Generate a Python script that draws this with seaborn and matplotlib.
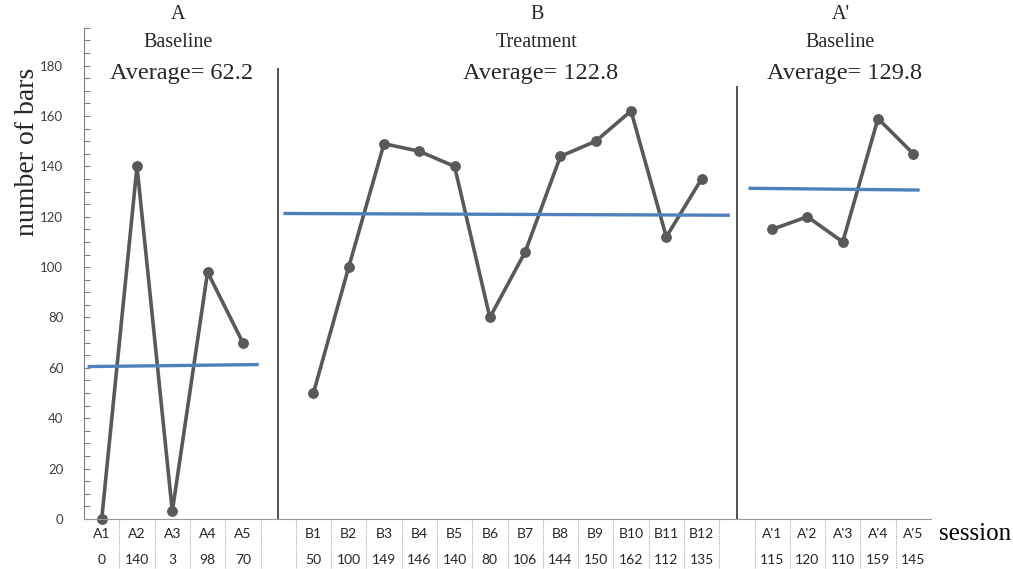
import numpy as np
import pandas as pd
import matplotlib
matplotlib.use("Agg")
import matplotlib.pyplot as plt
import seaborn as sns

# Data
phase_a = ["A1", "A2", "A3", "A4", "A5"]
values_a = [0, 140, 3, 98, 70]
phase_b = ["B1", "B2", "B3", "B4", "B5", "B6", "B7", "B8", "B9", "B10", "B11", "B12"]
values_b = [50, 100, 149, 146, 140, 80, 106, 144, 150, 162, 112, 135]
phase_a2 = ["A'1", "A'2", "A'3", "A'4", "A'5"]
values_a2 = [115, 120, 110, 159, 145]

phase_titles = [("A", "Baseline", "Average= 62.2"),
                ("B", "Treatment", "Average= 122.8"),
                ("A'", "Baseline", "Average= 129.8")]
# hand-drawn mean lines (start, end level)
mean_levels = [(60.5, 61.3), (121.3, 120.6), (131.3, 130.6)]

GRAY = "#595959"
BLUE = "#4F81BD"
SERIF = "Liberation Serif"
SANS = "Lato"

# layout: one empty column between phases
labels = phase_a + [""] + phase_b + [""] + phase_a2
values = values_a + [None] + values_b + [None] + values_a2
rows = []
for i, (lab, v) in enumerate(zip(labels, values)):
    if v is None:
        continue
    ph = "A" if lab.startswith("A") and "'" not in lab else ("B" if lab.startswith("B") else "A'")
    rows.append({"pos": i, "value": v, "phase": ph, "label": lab})
df = pd.DataFrame(rows)

sns.set_style("white")
fig = plt.figure(figsize=(10.13, 5.69), dpi=100)
ax = fig.add_axes([0.083, 0.088, 0.836, 0.863])

sns.lineplot(data=df, x="pos", y="value", units="phase", estimator=None,
             color=GRAY, linewidth=2.6, marker="o", markersize=7,
             markeredgecolor=GRAY, markerfacecolor=GRAY, ax=ax, sort=False)
for ln in ax.lines:
    ln.set_clip_on(False)

# mean lines per phase (drawn by hand in the original, slightly off the averages)
pad = [(-0.4, 0.45), (-0.85, 0.8), (-0.67, 0.18)]
for ph, (y0, y1), (l, r) in zip(["A", "B", "A'"], mean_levels, pad):
    p = df.loc[df["phase"] == ph, "pos"]
    ax.plot([p.min() + l, p.max() + r], [y0, y1], color=BLUE, linewidth=2.4,
            solid_capstyle="butt")

# phase dividers
ax.vlines(5, 0, 179, color="#333333", linewidth=1.2)
ax.vlines(18, 0, 172, color="#333333", linewidth=1.2)

ax.set_xlim(-0.5, len(labels) - 0.5)
ax.set_ylim(0, 195)
ax.set_yticks(np.arange(0, 181, 20))
ax.set_yticks(np.arange(0, 196, 5), minor=True)
ax.tick_params(axis="y", which="both", direction="in", length=4, width=0.8,
               color="#808080", labelsize=9.5, labelcolor="#404040", pad=15, left=True)
for t in ax.get_yticklabels():
    t.set_fontfamily(SANS)
ax.set_xticks([])
ax.set_xlabel("")
ax.set_ylabel("")
fig.text(28 / 1013, 1 - 152 / 569, "number of bars", rotation=90, ha="center",
         va="center", fontsize=20, fontfamily=SERIF)

for s in ["top", "right"]:
    ax.spines[s].set_visible(False)
ax.spines["left"].set_color("#808080")
ax.spines["bottom"].set_color("#999999")
ax.spines["bottom"].set_linestyle((0, (1, 1)))

# data table under the axis
xt = ax.get_xaxis_transform()
for i, (lab, v) in enumerate(zip(labels, values)):
    if v is None:
        continue
    ax.text(i, -0.031, lab, transform=xt, ha="center", va="center",
            fontsize=10, fontfamily=SANS, color="#262626")
    ax.text(i, -0.084, str(v), transform=xt, ha="center", va="center",
            fontsize=10, fontfamily=SANS, color="#262626")
ax.vlines(np.arange(0.5, len(labels) - 1, 1), -0.105, 0, transform=xt,
          colors="#aaaaaa", linewidth=0.8, linestyles=(0, (1, 1)), clip_on=False)
ax.text(len(labels) - 0.28, -0.031, "session", transform=xt, ha="left",
        va="center", fontsize=18, fontfamily=SERIF, color="black")

# phase titles
title_x = [2.16, 12.33, 20.94]
for x, (t1, t2, t3) in zip(title_x, phase_titles):
    ax.text(x, 1.028, t1, transform=xt, ha="center", va="center",
            fontsize=14.5, fontfamily=SERIF)
    ax.text(x, 0.971, t2, transform=xt, ha="center", va="center",
            fontsize=14.5, fontfamily=SERIF)
    ax.text(x + 0.1, 0.908, t3, transform=xt, ha="center", va="center",
            fontsize=17.5, fontfamily=SERIF)

fig.savefig("out.png", dpi=100)
